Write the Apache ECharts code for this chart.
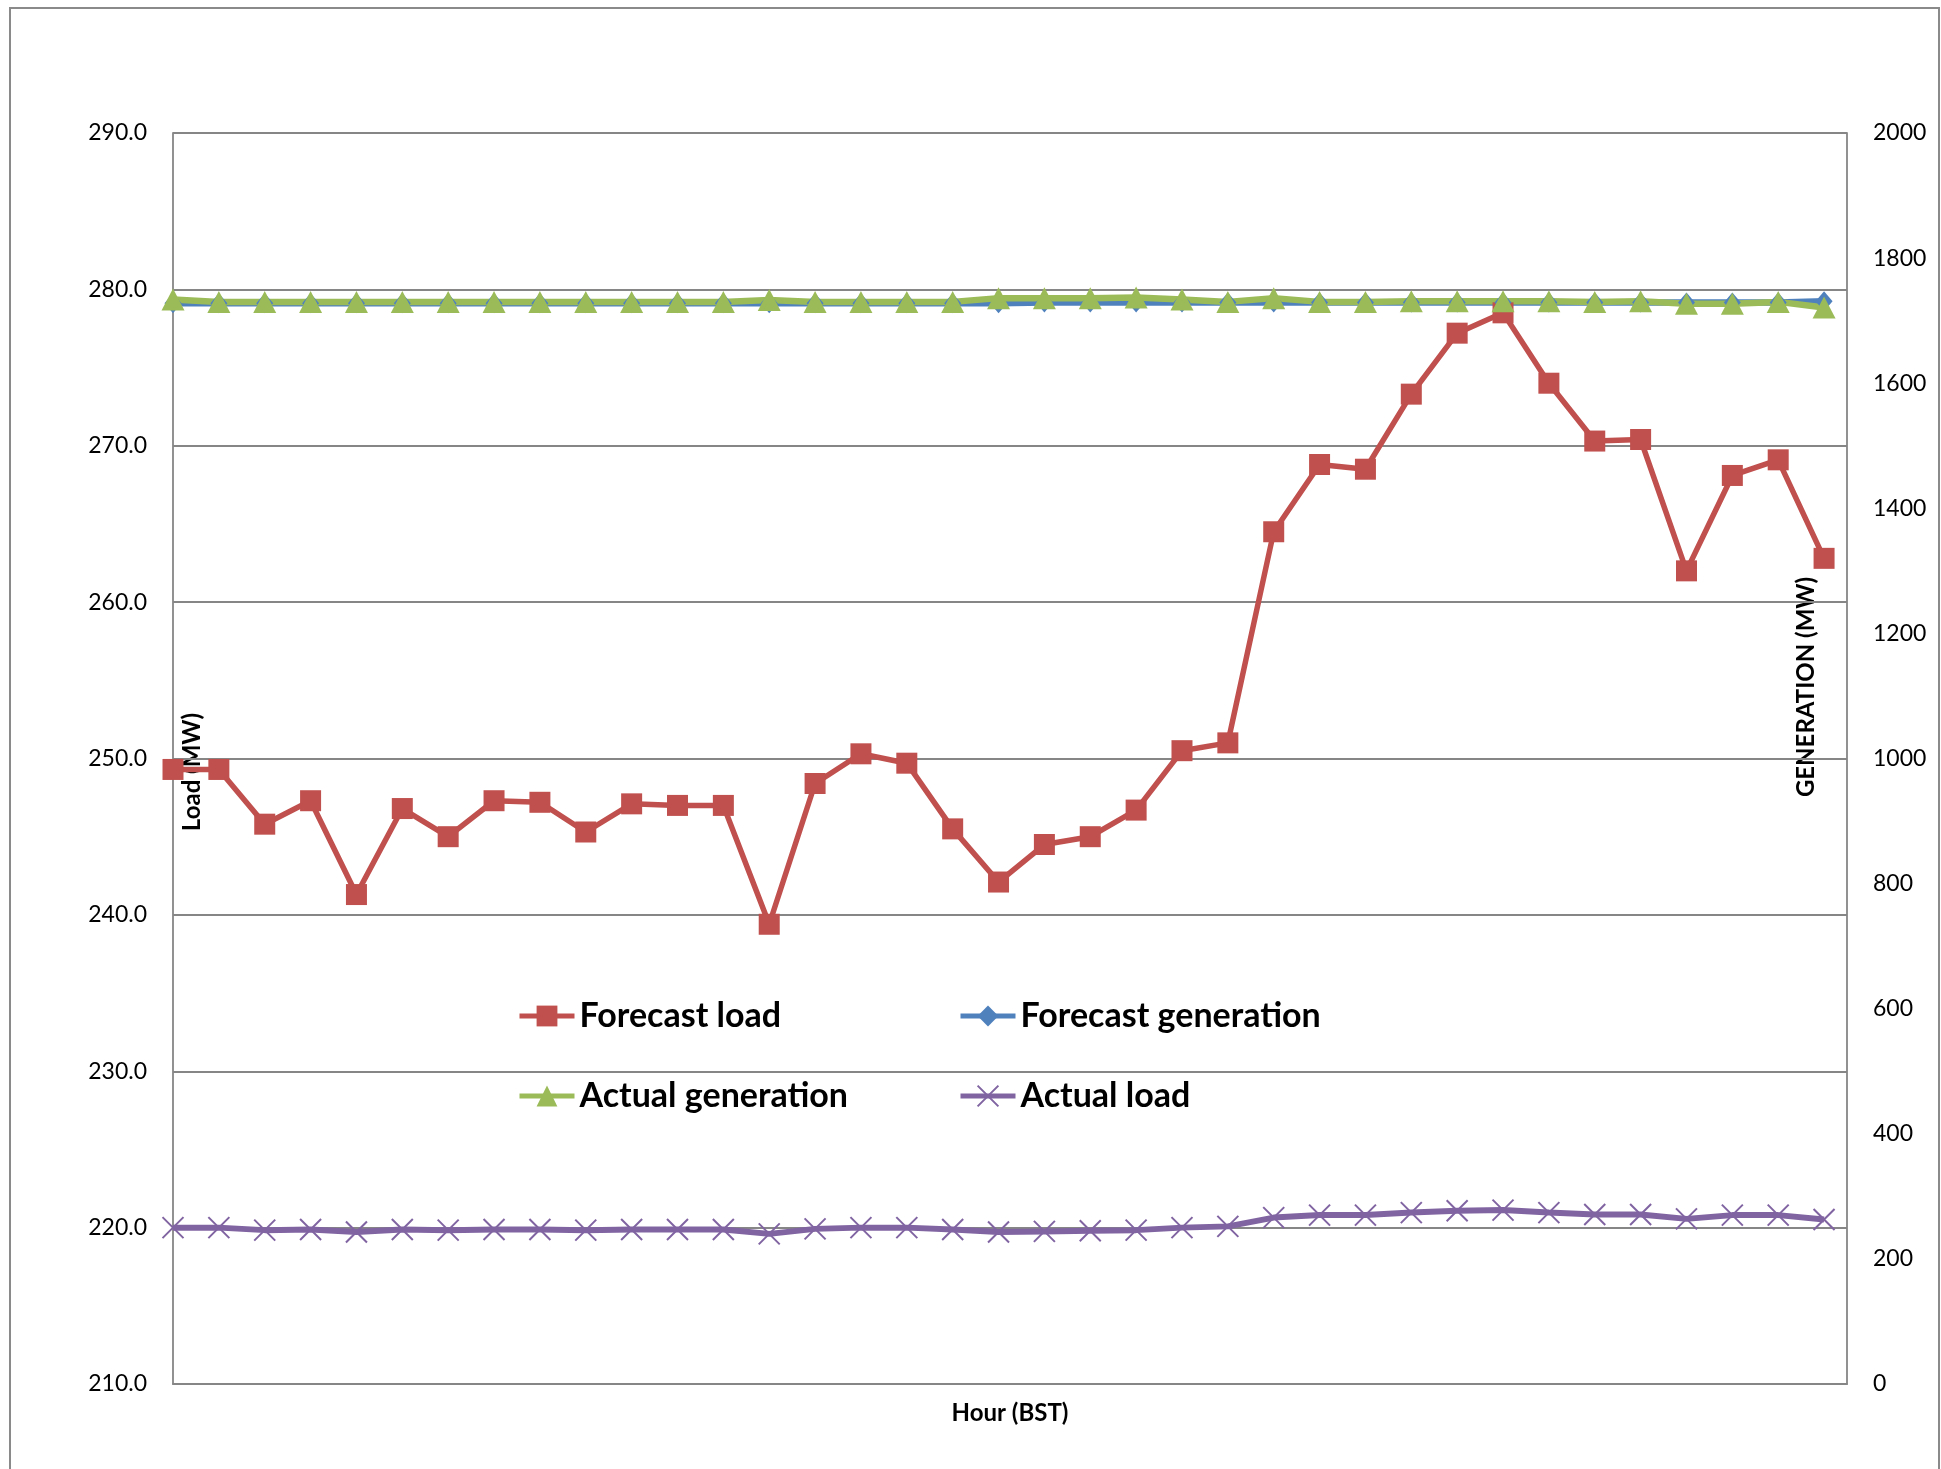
<!DOCTYPE html>
<html>
<head>
<meta charset="utf-8">
<script src="https://cdn.jsdelivr.net/npm/echarts@6/dist/echarts.min.js"></script>
<style>
html,body{margin:0;padding:0;background:#fff;}
#chart{width:1941px;height:1469px;}
</style>
</head>
<body>
<div id="chart"></div>
<script>
// Hour slots (x positions along the hour axis)
const hours = [0,1,2,3,4,5,6,7,8,9,10,11,12,13,14,15,16,17,18,19,20,21,22,23,24,25,26,27,28,29,30,31,32,33,34,35,36];

// Left axis (Load, MW)
const forecastLoad = [249.3,249.3,245.8,247.3,241.3,246.8,245.0,247.3,247.2,245.3,247.1,247.0,247.0,239.4,248.4,250.3,249.7,245.5,242.1,244.5,245.0,246.7,250.5,251.0,264.5,268.8,268.5,273.3,277.2,278.5,274.0,270.3,270.4,262.0,268.1,269.1,262.8];

// Right axis (Generation, MW)
const forecastGeneration = [1728,1728,1728,1728,1728,1728,1728,1728,1728,1728,1728,1728,1728,1728,1728,1728,1728,1728,1728,1729,1729,1729,1729,1729,1729,1729,1729,1729,1729,1729,1729,1729,1729,1729,1729,1729,1731];
const actualGeneration = [1734,1730,1730,1730,1730,1730,1730,1730,1730,1730,1730,1730,1730,1733,1730,1730,1730,1730,1736,1736,1736,1737,1734,1730,1736,1730,1730,1731,1731,1731,1731,1730,1731,1727,1727,1730,1721];
const actualLoad = [250,250,246,247,243,247,246,247,247,246,247,247,247,240,248,250,250,247,243,244,245,246,250,252,266,270,270,274,277,278,274,271,271,264,270,270,263];

const seriesNames = ['Forecast load','Forecast generation','Actual generation','Actual load'];
const leftTicks = [210,220,230,240,250,260,270,280,290];
const rightTicks = [0,200,400,600,800,1000,1200,1400,1600,1800,2000];

const RED = '#C0504D', BLUE = '#4F81BD', GREEN = '#9BBB59', PURPLE = '#8064A2';
const GRID = '#868686';
const FONT = 'Lato';

const pairs = arr => hours.map((h, i) => [h, arr[i]]);

const chart = echarts.init(document.getElementById('chart'), null, {renderer: 'canvas'});

const legendBase = {
  orient: 'horizontal', padding: 0, itemWidth: 55, itemHeight: 26, itemGap: 0,
  textStyle: {fontFamily: FONT, fontWeight: 'bold', fontSize: 34, color: '#000'},
  lineStyle: {width: 5},
  selectedMode: false
};

chart.setOption({
  animation: false,
  backgroundColor: '#fff',
  textStyle: {fontFamily: FONT},
  grid: {left: 173, top: 133, right: 94, bottom: 85, containLabel: false},
  xAxis: {
    type: 'value', min: 0, max: 36.5,
    name: 'Hour (BST)', nameLocation: 'middle', nameGap: 17,
    nameTextStyle: {fontFamily: FONT, fontWeight: 'bold', fontSize: 24, color: '#000'},
    axisLine: {show: true, lineStyle: {color: GRID, width: 1.8}},
    axisTick: {show: false}, axisLabel: {show: false}, splitLine: {show: false}
  },
  yAxis: [
    {
      type: 'value', position: 'left',
      min: leftTicks[0], max: leftTicks[leftTicks.length - 1], interval: 10,
      axisLine: {show: true, lineStyle: {color: GRID, width: 1.8}},
      axisTick: {show: false},
      axisLabel: {margin: 26, fontFamily: FONT, fontSize: 23, color: '#000', formatter: v => v.toFixed(1)},
      splitLine: {show: true, lineStyle: {color: GRID, width: 1.8}}
    },
    {
      type: 'value', position: 'right',
      min: rightTicks[0], max: rightTicks[rightTicks.length - 1], interval: 200,
      axisLine: {show: true, lineStyle: {color: GRID, width: 1.8}},
      axisTick: {show: false},
      axisLabel: {margin: 26, fontFamily: FONT, fontSize: 23, color: '#000', formatter: v => String(v)},
      splitLine: {show: false}
    }
  ],
  legend: [
    Object.assign({}, legendBase, {data: [seriesNames[0]], left: 517, top: 999}),
    Object.assign({}, legendBase, {data: [seriesNames[1]], left: 958, top: 999}),
    Object.assign({}, legendBase, {data: [seriesNames[2]], left: 517, top: 1079}),
    Object.assign({}, legendBase, {data: [seriesNames[3]], left: 958, top: 1079})
  ],
  graphic: [
    {type: 'rect', silent: true, shape: {x: 10, y: 8, width: 1929, height: 1490},
     style: {fill: 'none', stroke: '#8a8a8a', lineWidth: 2}},
    {type: 'text', x: 192, y: 772, rotation: Math.PI / 2, silent: true,
     style: {text: 'Load (MW)', textAlign: 'center', textVerticalAlign: 'middle',
             font: 'bold 24px ' + FONT, fill: '#000'}},
    {type: 'text', x: 1806, y: 687, rotation: Math.PI / 2, silent: true,
     style: {text: 'GENERATION (MW)', textAlign: 'center', textVerticalAlign: 'middle',
             font: 'bold 24px ' + FONT, fill: '#000'}}
  ],
  series: [
    {
      name: seriesNames[0], type: 'line', yAxisIndex: 0, data: pairs(forecastLoad),
      symbol: 'rect', symbolSize: 21,
      lineStyle: {color: RED, width: 5.5}, itemStyle: {color: RED}
    },
    {
      name: seriesNames[1], type: 'line', yAxisIndex: 1, data: pairs(forecastGeneration),
      symbol: 'diamond', symbolSize: [17, 20],
      lineStyle: {color: BLUE, width: 6.5}, itemStyle: {color: BLUE}
    },
    {
      name: seriesNames[2], type: 'line', yAxisIndex: 1, data: pairs(actualGeneration),
      symbol: 'triangle', symbolSize: [23, 22],
      lineStyle: {color: GREEN, width: 6.5}, itemStyle: {color: GREEN}
    },
    {
      name: seriesNames[3], type: 'line', yAxisIndex: 1, data: pairs(actualLoad),
      symbol: 'path://M0,0L10,10M10,0L0,10', symbolSize: 21,
      lineStyle: {color: PURPLE, width: 6},
      itemStyle: {color: PURPLE, borderColor: PURPLE, borderWidth: 2}
    }
  ]
});
</script>
</body>
</html>
